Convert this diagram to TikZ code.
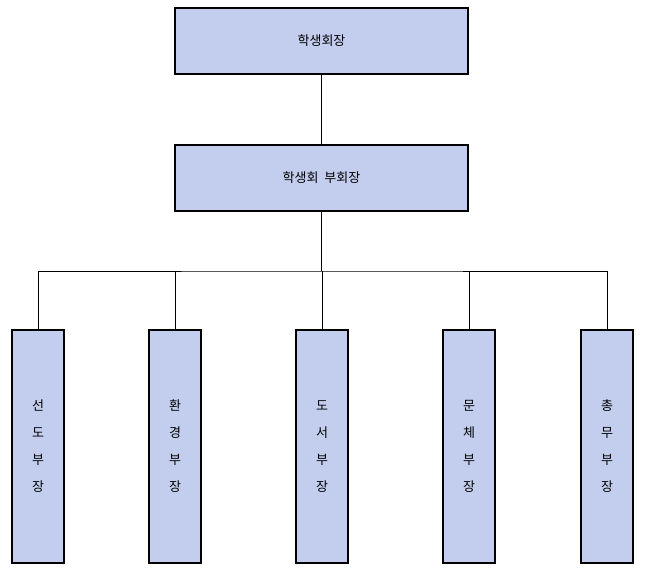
\documentclass[tikz,border=0pt]{standalone}
\usepackage{fontspec}
\setmainfont{Noto Sans CJK KR}
\usetikzlibrary{positioning}
\definecolor{boxblue}{HTML}{C3CEEE}

\begin{document}
\begin{tikzpicture}[
  x=1pt, y=-1pt,
  box/.style={draw, line width=1.6pt, fill=boxblue, font=\fontsize{13}{15}\selectfont,
    inner sep=0pt},
  head/.style={box, minimum width=293pt, minimum height=66pt},
  dept/.style={box, minimum width=52pt, minimum height=233pt, align=center,
    font=\fontsize{13}{27}\selectfont},
  link/.style={line width=0.8pt}
]
\useasboundingbox (0,0) rectangle (645,577);

% top of the chart
\node[head] (pres) at (321.5,41) {학생회장};
\node[head] (vice) at (321.5,178) {학생회\ \ 부회장};

% departments
\node[dept] (d1) at (38,446.5) {선\\도\\부\\장};
\node[dept] (d2) at (175,446.5) {환\\경\\부\\장};
\node[dept] (d3) at (322,446.5) {도\\서\\부\\장};
\node[dept] (d4) at (469,446.5) {문\\체\\부\\장};
\node[dept] (d5) at (607,446.5) {총\\무\\부\\장};

\coordinate (bus) at (321.5,271);

\draw[link] (pres) -- (vice);
\draw[link] (vice) -- (bus);
\draw[link] (d1.north) |- (bus) -| (d5.north);
\foreach \d in {d2,d3,d4}
  \draw[link] (\d.north) -- (\d.north |- bus);
\end{tikzpicture}
\end{document}
